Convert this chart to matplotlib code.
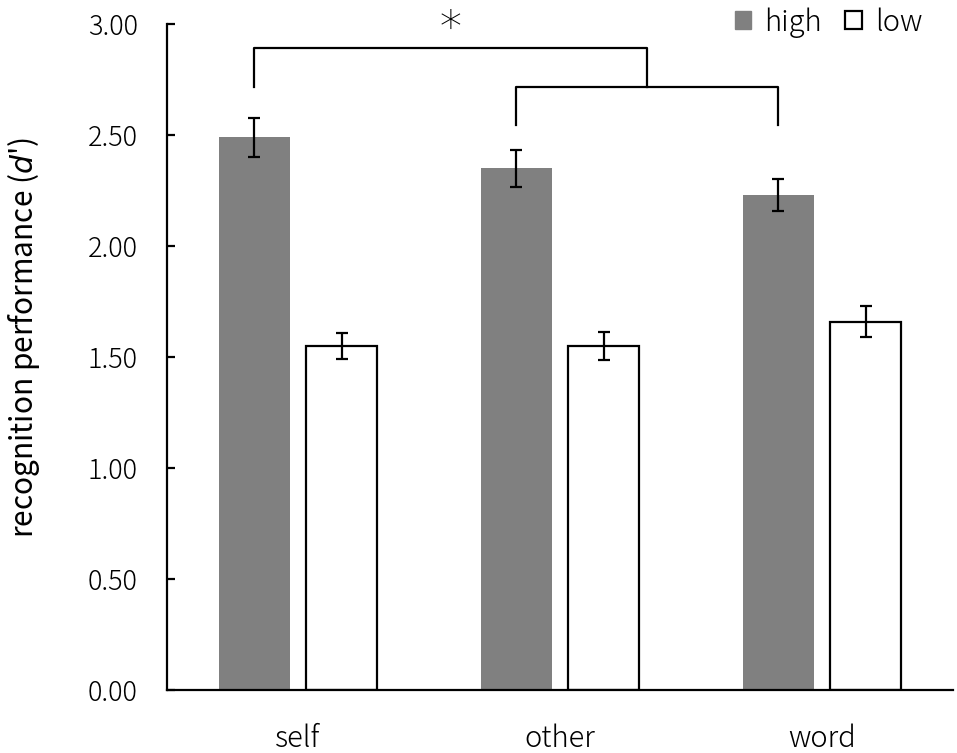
import numpy as np
import matplotlib.pyplot as plt
from matplotlib.patches import Patch

plt.rcParams['font.family'] = ['Noto Sans CJK JP', 'DejaVu Sans']
plt.rcParams['font.weight'] = 'light'
plt.rcParams['mathtext.fontset'] = 'dejavusans'

# data
categories = ['self', 'other', 'word']
high_vals = [2.49, 2.35, 2.23]
high_err = [0.088, 0.083, 0.074]
low_vals = [1.55, 1.55, 1.66]
low_err = [0.057, 0.063, 0.068]
yticks = [0.0, 0.5, 1.0, 1.5, 2.0, 2.5, 3.0]

x = np.arange(len(categories))
width = 0.27
off = 0.167

fig = plt.figure(figsize=(9.57, 7.53), dpi=100)
ax = fig.add_axes([0.1745, 0.0837, 0.8213, 0.8843])

err_kw = dict(ecolor='black', elinewidth=1.6, capsize=4, capthick=1.6)
ax.bar(x - off, high_vals, width, yerr=high_err, color='#808080',
       error_kw=err_kw, zorder=2)
ax.bar(x + off, low_vals, width, yerr=low_err, facecolor='white',
       edgecolor='black', linewidth=1.6, error_kw=err_kw, zorder=2)

# significance brackets
x_self = x[0] - off
x_other = x[1] - off
x_word = x[2] - off
x_mid = (x_other + x_word) / 2
y_top = 2.892
y_low = 2.716
lw = 1.6
ax.plot([x_self, x_self, x_mid, x_mid], [y_low, y_top, y_top, y_low],
        color='black', lw=lw, clip_on=False)
ax.plot([x_other, x_other, x_word, x_word], [2.545, y_low, y_low, 2.545],
        color='black', lw=lw, clip_on=False)
ax.text((x_self + x_mid) / 2, 3.015, '\u2217', ha='center', va='center',
        fontsize=32, family='DejaVu Sans', fontweight='light', clip_on=False)

ax.set_xlim(-0.5, 2.5)
ax.set_ylim(0, 3.0)
ax.set_yticks(yticks)
ax.set_yticklabels([f'{v:.2f}' for v in yticks])
ax.set_xticks(x)
ax.set_xticklabels(categories)
ax.tick_params(axis='y', direction='in', length=6, width=1.6, labelsize=19.5, pad=21)
ax.tick_params(axis='x', length=0, labelsize=21, pad=24)

for s in ['top', 'right']:
    ax.spines[s].set_visible(False)
for s in ['left', 'bottom']:
    ax.spines[s].set_linewidth(1.6)

ax.set_ylabel("recognition performance ($d$')", fontsize=21.5, va='center')
ax.yaxis.set_label_coords(-0.182, 0.53)

handles = [Patch(facecolor='#808080', edgecolor='#808080', label='high'),
           Patch(facecolor='white', edgecolor='black', linewidth=1.6, label='low')]
ax.legend(handles=handles, ncol=2, frameon=False, loc='upper right',
          bbox_to_anchor=(0.994, 1.065), fontsize=21, handlelength=0.55,
          handleheight=0.55, handletextpad=0.45, columnspacing=0.8)

fig.savefig('out.png', dpi=100)
